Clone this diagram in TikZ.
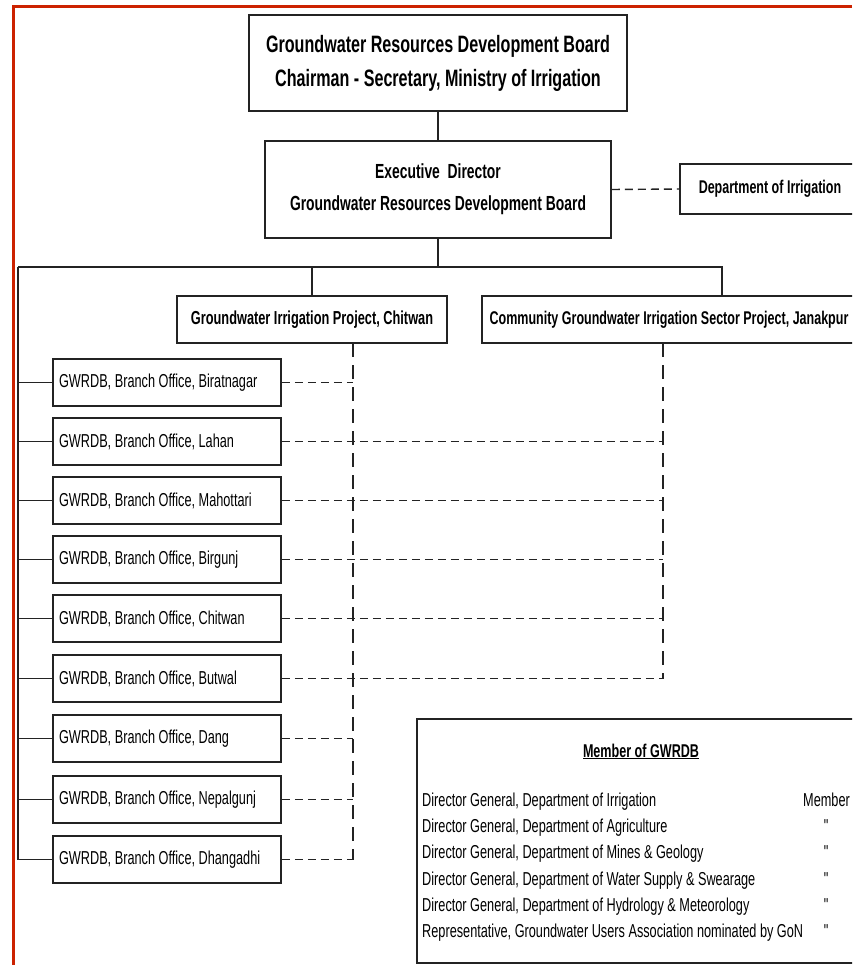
\documentclass[tikz,border=0pt]{standalone}
\usepackage{fontspec}
\setmainfont{Liberation Sans}[FakeStretch=0.68,Ligatures=TeXOff]
\definecolor{framered}{RGB}{204,34,0}
\definecolor{linec}{RGB}{35,35,35}
\begin{document}
\begin{tikzpicture}[x=1pt,y=-1pt,
  box/.style={draw=linec, line width=1.5pt, inner sep=0pt, fill=white, text=black},
  topbox/.style={box, align=center, font=\bfseries\fontsize{23.7}{34}\selectfont},
  projbox/.style={box, minimum height=47pt, font=\bfseries\fontsize{18.8}{22}\selectfont},
  branch/.style={box, minimum height=47pt, inner xsep=6pt, text width=216pt, align=flush left, font=\fontsize{18.7}{22}\selectfont},
  mtext/.style={inner sep=0pt, font=\fontsize{18.7}{22}\selectfont},
  conn/.style={draw=linec, line width=1.2pt},
  dashH/.style={conn, line width=1.4pt, dash pattern=on 8pt off 5pt},
  dashV/.style={conn, line width=1.3pt, dash pattern=on 14pt off 8pt},
  redline/.style={draw=framered, line width=3pt}
]
\clip (0,0) rectangle (852,965);
\fill[white] (0,0) rectangle (852,965);

% red frame
\draw[redline] (852,7) -- (13,7) -- (13,966);

% bus coordinates
\coordinate (busL) at (18,267);
\coordinate (busR) at (722,267);
\coordinate (gA) at (353,343);
\coordinate (cA) at (663,343);

% top boxes
\node[topbox, minimum width=378pt, minimum height=96pt] (top) at (438,63)
  {Groundwater Resources Development Board\\Chairman - Secretary, Ministry of Irrigation};
\node[box, align=center, minimum width=346pt, minimum height=97pt,
  font=\bfseries\fontsize{20.4}{32}\selectfont] (exec) at (438,189.5)
  {Executive\ \ Director\\Groundwater Resources Development Board};
\node[box, minimum width=180pt, minimum height=50pt,
  font=\bfseries\fontsize{18.4}{22}\selectfont] (dept) at (770,189) {Department of Irrigation};

\node[projbox, minimum width=270pt] (gip) at (312,319.5) {Groundwater Irrigation Project, Chitwan};
\node[projbox, minimum width=374pt, font=\bfseries\fontsize{18.4}{22}\selectfont] (cgisp) at (669,319.5) {Community Groundwater Irrigation Sector Project, Janakpur};

% branch offices
\node[branch] (b1) at (167,382.5) {GWRDB, Branch Office, Biratnagar};
\node[branch] (b2) at (167,441.5) {GWRDB, Branch Office, Lahan};
\node[branch] (b3) at (167,500.5) {GWRDB, Branch Office, Mahottari};
\node[branch] (b4) at (167,559.5) {GWRDB, Branch Office, Birgunj};
\node[branch] (b5) at (167,618.5) {GWRDB, Branch Office, Chitwan};
\node[branch] (b6) at (167,678.5) {GWRDB, Branch Office, Butwal};
\node[branch] (b7) at (167,738.5) {GWRDB, Branch Office, Dang};
\node[branch] (b8) at (167,799.5) {GWRDB, Branch Office, Nepalgunj};
\node[branch] (b9) at (167,859.5) {GWRDB, Branch Office, Dhangadhi};

% solid connectors
\draw[conn] (top.south) -- (exec.north);
\draw[conn] (exec.south) -- (exec.south |- busL);
\draw[conn] (busL) -- (busR) -- (busR |- cgisp.north);
\draw[conn] (gip.north) -- (gip.north |- busL);
\draw[conn] (busL) -- (busL |- b9.west);
\foreach \b in {b1,b2,b3,b4,b5,b6,b7,b8,b9}
  \draw[conn] (busL |- \b.west) -- (\b.west);

% dashed connectors
\draw[dashH] (exec.east) -- (dept.west);
\draw[dashV] (gA) -- (gA |- b9.east);
\draw[dashV] (cA) -- (cA |- b6.east);
\foreach \b in {b1,b7,b8,b9}
  \draw[dashH] (\b.east) -- (gA |- \b.east);
\foreach \b in {b2,b3,b4,b5,b6}
  \draw[dashH] (\b.east) -- (cA |- \b.east);

% members box
\node[box, minimum width=453pt, minimum height=244pt] (mem) at (643.5,841) {};
\node[inner sep=0pt, anchor=base, font=\bfseries\fontsize{18.5}{22}\selectfont] (mt) at (641,757) {\underline{Member of GWRDB}};
\node[mtext, anchor=base west] (m1) at (422,806) {Director General, Department of Irrigation};
\node[mtext, anchor=base west] (m2) at (422,832) {Director General, Department of Agriculture};
\node[mtext, anchor=base west] (m3) at (422,858.5) {Director General, Department of Mines \& Geology};
\node[mtext, anchor=base west] (m4) at (422,885) {Director General, Department of Water Supply \& Swearage};
\node[mtext, anchor=base west] (m5) at (422,911) {Director General, Department of Hydrology \& Meteorology};
\node[mtext, anchor=base west] (m6) at (422,937) {Representative, Groundwater Users Association nominated by GoN};
\node[mtext, anchor=base east] (r1) at (850,806) {Member};
\node[mtext, anchor=base] (r2) at (826,832) {"};
\node[mtext, anchor=base] (r3) at (826,858.5) {"};
\node[mtext, anchor=base] (r4) at (826,885) {"};
\node[mtext, anchor=base] (r5) at (826,911) {"};
\node[mtext, anchor=base] (r6) at (826,937) {"};
\end{tikzpicture}
\end{document}
